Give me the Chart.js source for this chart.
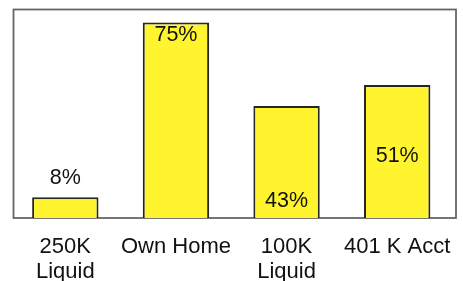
<!DOCTYPE html>
<html>
<head>
<meta charset="utf-8">
<script src="https://cdn.jsdelivr.net/npm/chart.js@4/dist/chart.umd.min.js"></script>
<style>
  html, body { margin: 0; padding: 0; background: #fff; }
  #wrap { width: 463px; height: 281px; position: relative; }
</style>
</head>
<body>
<div id="wrap"><canvas id="c" width="463" height="281"></canvas></div>
<script>
const categories = [["250K", "Liquid"], "Own Home", ["100K", "Liquid"], "401 K Acct"];
const values = [8, 75, 43, 51];
const valueLabels = ["8%", "75%", "43%", "51%"];

const FONT = "'Liberation Sans', Arial, Helvetica, sans-serif";

const frameBox = {
  id: 'frameBox',
  beforeDatasetsDraw(chart, args, opts) {
    const a = chart.chartArea, ctx = chart.ctx;
    ctx.save();
    ctx.strokeStyle = opts.color;
    ctx.lineWidth = opts.width;
    ctx.strokeRect(a.left + opts.shift, a.top, a.right - a.left, a.bottom - a.top);
    ctx.restore();
  }
};

const valueText = {
  id: 'valueText',
  afterDatasetsDraw(chart, args, opts) {
    const ctx = chart.ctx;
    const meta = chart.getDatasetMeta(0);
    ctx.save();
    ctx.font = opts.size + 'px ' + FONT;
    ctx.fillStyle = opts.color;
    ctx.textAlign = 'center';
    ctx.textBaseline = 'middle';
    meta.data.forEach((bar, i) => {
      const top = bar.y, base = bar.base;
      let y;
      switch (opts.placement[i]) {
        case 'above': y = top - 19; break;
        case 'top': y = top + 13; break;
        case 'bottom': y = base - 17; break;
        default: y = (top + base) / 2 + 5;
      }
      ctx.fillText(valueLabels[i], bar.x, y);
    });
    ctx.restore();
  }
};

new Chart(document.getElementById('c'), {
  type: 'bar',
  data: {
    labels: categories,
    datasets: [{
      data: values,
      backgroundColor: '#FFF42E',
      borderColor: '#262626',
      borderWidth: 2,
      barPercentage: 0.6,
      categoryPercentage: 1.0
    }]
  },
  options: {
    responsive: false,
    animation: false,
    devicePixelRatio: 1,
    layout: { padding: { left: 10, right: 10.5, top: 9.5, bottom: 0 } },
    plugins: {
      legend: { display: false },
      tooltip: { enabled: false },
      frameBox: { color: '#666666', width: 1.8, shift: 3.5 },
      valueText: { size: 21.5, color: '#111111', placement: ['above', 'top', 'bottom', 'middle'] }
    },
    scales: {
      x: {
        grid: { display: false, drawTicks: false },
        border: { display: false },
        afterFit(scale) {
          scale.height = 63;
          scale.paddingLeft = 0;
          scale.paddingRight = 0;
        },
        ticks: {
          color: '#111111',
          padding: 17,
          maxRotation: 0,
          autoSkip: false,
          font: { family: FONT, size: 22, lineHeight: 1.12 }
        }
      },
      y: {
        display: false,
        min: 0,
        max: 80
      }
    }
  },
  plugins: [frameBox, valueText]
});
</script>
</body>
</html>
